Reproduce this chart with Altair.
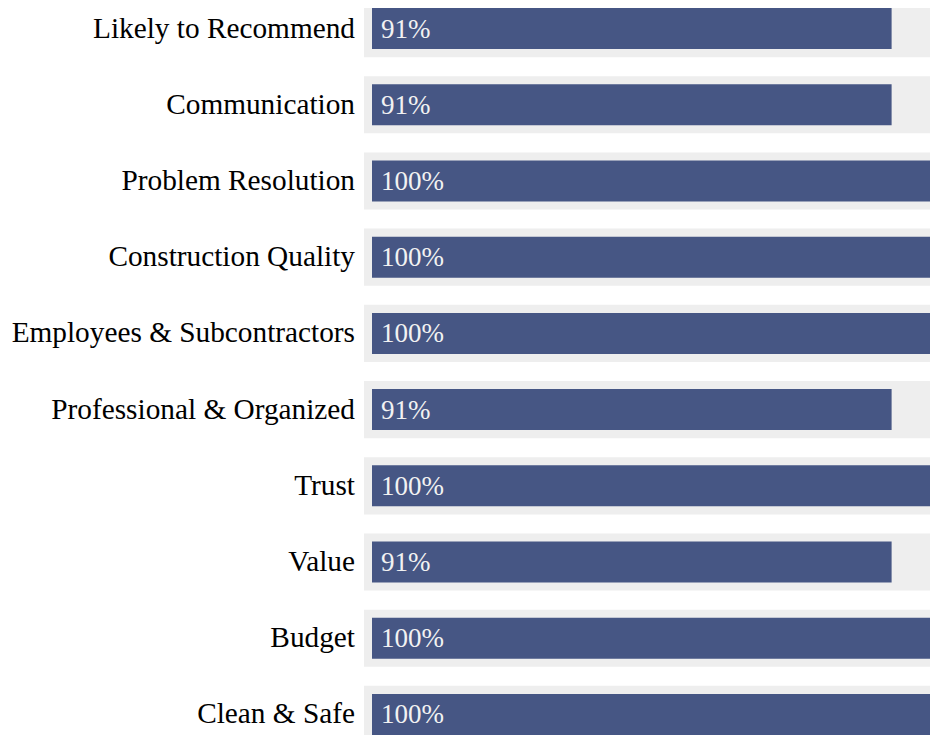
import altair as alt
import pandas as pd

categories = [
    "Likely to Recommend",
    "Communication",
    "Problem Resolution",
    "Construction Quality",
    "Employees & Subcontractors",
    "Professional & Organized",
    "Trust",
    "Value",
    "Budget",
    "Clean & Safe",
]
values = [91, 91, 100, 100, 100, 91, 100, 91, 100, 100]

df = pd.DataFrame({
    "category": categories,
    "value": values,
    "start": [0] * len(categories),
    "full": [100] * len(categories),
    "label": [f"{v}%" for v in values],
})

yscale = alt.Scale(domain=categories, range=[-8, 735], paddingInner=0.25, paddingOuter=0)
xscale = alt.Scale(domain=[0, 100], range=[8, 579], nice=False, zero=False)

base = alt.Chart(df)
Y = alt.Y("category:N", sort=categories, scale=yscale, axis=None)
X = alt.X("start:Q", scale=xscale, axis=None)

track = base.mark_bar(color="#eeeeee", xOffset=-8, x2Offset=8).encode(
    y=Y, x=X, x2="full:Q",
)

bars = base.mark_bar(color="#465684", size=41).encode(
    y=Y, x=X, x2="value:Q",
)

texts = base.mark_text(align="left", baseline="middle", dx=9, dy=1,
                       font="Liberation Serif", fontSize=27, color="#f2f2f2").encode(
    y=Y, x=X, text="label:N",
)

cats = base.mark_text(align="right", baseline="middle", dx=-17, dy=0,
                      font="Liberation Serif", fontSize=29.3, color="black").encode(
    y=Y, x=X, text="category:N",
)

chart = alt.layer(track, bars, texts, cats).properties(
    width=566, height=727,
    autosize=alt.AutoSizeParams(type="none"),
    padding={"left": 356, "top": 0, "right": 0, "bottom": 0},
).configure_view(stroke=None)

chart.save("out.html", embed_options={"renderer": "svg", "actions": False})
